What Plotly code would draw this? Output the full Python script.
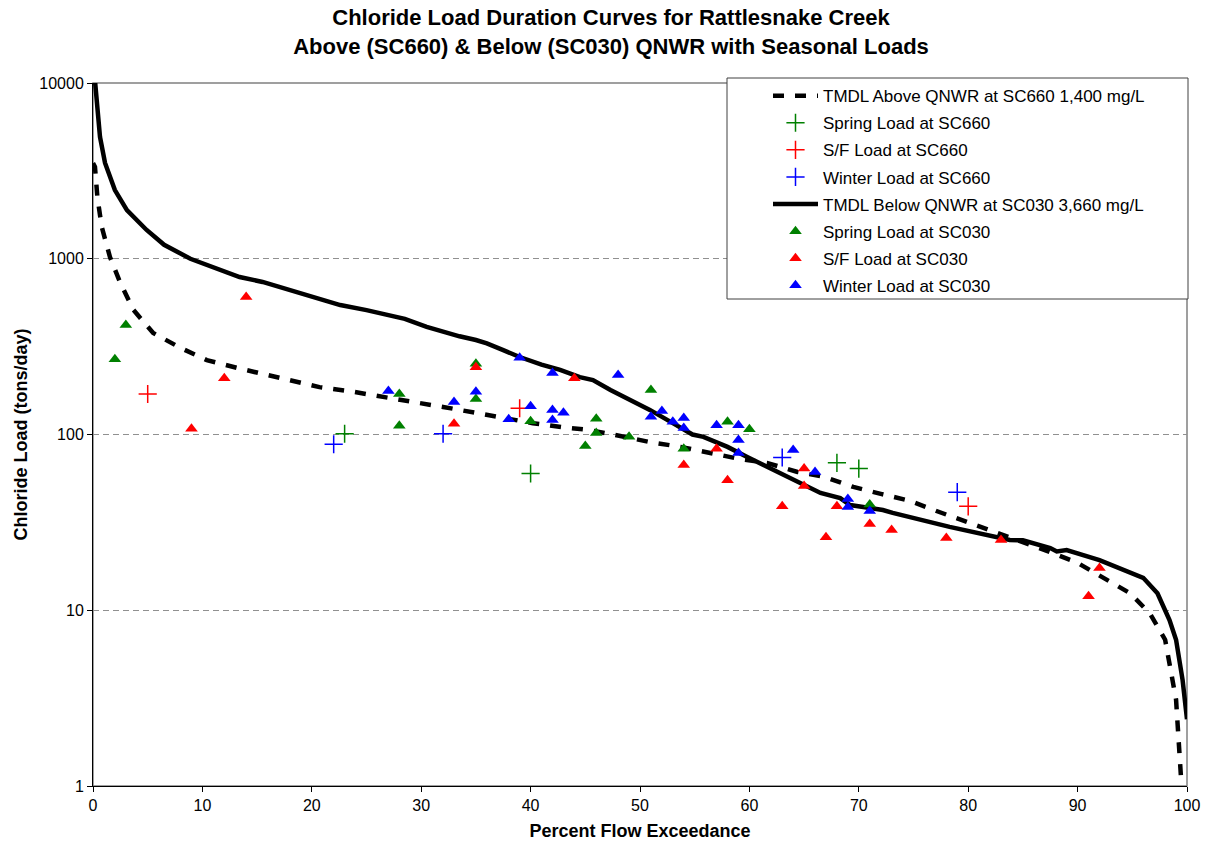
import plotly.graph_objects as go

# ---------------- data ----------------
# TMDL curve below QNWR (SC030, 3,660 mg/L)
tmdl_below_x = [0, 0.2, 0.64, 1.1, 2.0, 3.1, 4.9, 6.5, 8.9, 11, 13.4, 15.5, 18, 20, 22.6,
                25, 27, 28.5, 30.5, 32, 33.5, 35, 36, 37.5, 39, 41, 42.7, 44.5, 45.7,
                47.3, 48.8, 50.9, 53, 54.8, 55.8, 58, 59.8, 62.2, 64.6, 66.5, 68.3,
                69.2, 72.2, 73.1, 78.3, 83.8, 85, 87.5, 88.1, 89, 92, 96, 97.3, 98.4,
                99, 99.6, 100]
tmdl_below_y = [11500, 10000, 4930, 3510, 2460, 1890, 1458, 1200, 1000, 898, 787, 738, 664,
                614, 545, 510, 480, 455, 410, 385, 362, 345, 330, 302, 276, 250, 233,
                212, 204, 179, 161, 138, 116, 100, 97, 85, 74.5, 62.8, 53, 46.5, 43.5,
                39.7, 37.2, 35.8, 29.8, 25.1, 25, 22.6, 21.6, 22, 19.3, 15.3, 12.5, 8.8,
                6.8, 4.0, 2.4]

# TMDL curve above QNWR (SC660, 1,400 mg/L)
tmdl_above_x = [0, 0.18, 0.4, 0.8, 1.55, 2.5, 3.7, 5.5, 8, 10.4, 13.2, 16, 18, 20.7, 23.8,
                26.5, 29.3, 32, 34.7, 37.5, 40.2, 42.9, 45.4, 48.2, 50.9, 53.7, 56.4,
                59.1, 61.6, 64.4, 66.9, 69.5, 72.1, 74.7, 77.1, 79.7, 82.3, 84.7, 87,
                90, 92.3, 94.8, 96.6, 98, 99, 99.6]
tmdl_above_y = [3500, 3330, 2245, 1517, 1023, 728, 511, 378, 311, 265, 239, 218, 205, 186,
                175, 163, 153, 143.5, 134, 126, 116, 110, 106, 98, 90.6, 85, 78.5, 72.6,
                68.9, 61.2, 57.3, 50.3, 45.8, 41.9, 36.7, 32.2, 27.9, 25, 22, 18.6, 15.3,
                12.5, 9.6, 6.8, 3.1, 0.8]

# Seasonal loads at SC660 (crosses)
spring_660_x = [23, 40, 68, 70]
spring_660_y = [101, 60, 69, 64]
sf_660_x = [5, 39, 80]
sf_660_y = [170, 141, 39]
winter_660_x = [22, 32, 63, 79]
winter_660_y = [88, 101, 74, 47]

# Seasonal loads at SC030 (triangles)
spring_030_x = [2, 3, 28, 28, 35, 35, 40, 45, 46, 46, 49, 51, 54, 58, 60, 71]
spring_030_y = [268, 420, 170, 112, 253, 159, 119, 86, 123, 102, 97, 179, 83, 118, 107, 40]
sf_030_x = [9, 12, 14, 33, 35, 44, 54, 57, 58, 63, 65, 65, 67, 68, 71, 73, 78, 83, 91, 92]
sf_030_y = [108, 209, 605, 115, 241, 209, 67, 83, 55, 39, 64, 51, 26, 39, 31, 28.6, 25.8,
            25.1, 12, 17.4]
winter_030_x = [27, 33, 35, 38, 39, 40, 42, 42, 42, 43, 48, 51, 52, 53, 54, 54, 57, 59,
                59, 59, 64, 66, 69, 69, 71]
winter_030_y = [177, 153, 175, 122, 273, 145, 224, 138, 121, 133, 218, 126, 136, 118, 124,
                109, 113, 113, 93, 78.5, 81.6, 61.2, 43, 38.7, 36.7]

y_tick_vals = [1, 10, 100, 1000, 10000]
y_tick_text = ["1", "10", "100", "1000", "10000"]
x_tick_vals = [0, 10, 20, 30, 40, 50, 60, 70, 80, 90, 100]

GREEN = "#008000"
RED = "#FF0000"
BLUE = "#0000FF"
FONT = "Liberation Sans, Arial, sans-serif"

fig = go.Figure()

fig.add_trace(go.Scatter(x=tmdl_above_x, y=tmdl_above_y, mode="lines",
                         name="TMDL Above QNWR at SC660 1,400 mg/L", legendgroup="g1",
                         line=dict(color="black", width=4.5, dash="11px,11px")))


def cross(x, y, color, name, g):
    fig.add_trace(go.Scatter(x=x, y=y, mode="markers", name=name, legendgroup=g,
                             marker=dict(symbol="cross-thin", size=13, color=color,
                                         line=dict(color=color, width=1.5))))


def tri(x, y, color, name, g):
    fig.add_trace(go.Scatter(x=x, y=y, mode="markers", name=name, legendgroup=g,
                             marker=dict(symbol="triangle-up", size=11, color=color,
                                         line=dict(width=0))))


cross(spring_660_x, spring_660_y, GREEN, "Spring Load at SC660", "g2")
cross(sf_660_x, sf_660_y, RED, "S/F Load at SC660", "g3")
cross(winter_660_x, winter_660_y, BLUE, "Winter Load at SC660", "g4")

fig.add_trace(go.Scatter(x=tmdl_below_x, y=tmdl_below_y, mode="lines",
                         name="TMDL Below QNWR at SC030 3,660 mg/L", legendgroup="g5",
                         line=dict(color="black", width=4.5)))

tri(spring_030_x, spring_030_y, GREEN, "Spring Load at SC030", "g6")
tri(sf_030_x, sf_030_y, RED, "S/F Load at SC030", "g7")
tri(winter_030_x, winter_030_y, BLUE, "Winter Load at SC030", "g8")

fig.update_layout(
    width=1209, height=841,
    margin=dict(l=93, r=22, t=83, b=55, autoexpand=False),
    paper_bgcolor="white", plot_bgcolor="white",
    font=dict(family=FONT, size=16, color="black"),
    title=dict(text="<b>Chloride Load Duration Curves for Rattlesnake Creek<br>"
                    "Above (SC660) &amp; Below (SC030) QNWR with Seasonal Loads</b>",
               x=611 / 1209, xanchor="center", xref="container", y=1 - 25 / 841,
               yanchor="middle", yref="container",
               font=dict(family=FONT, size=22, color="black")),
    showlegend=True,
    legend=dict(x=(768 - 93) / 1094, y=1.007, xanchor="left", yanchor="top",
                bgcolor="rgba(0,0,0,0)", borderwidth=0,
                font=dict(family=FONT, size=17, color="black"),
                traceorder="grouped", tracegroupgap=2, itemwidth=45),
    shapes=[
        dict(type="rect", xref="paper", yref="paper", x0=0, x1=1, y0=0, y1=1,
             line=dict(color="#808080", width=1.5), layer="below"),
        dict(type="rect", xref="paper", yref="paper",
             x0=(727 - 93) / 1094, x1=(1188 - 93) / 1094,
             y0=(786 - 299) / 703, y1=(786 - 78) / 703,
             fillcolor="white", line=dict(color="#404040", width=1), layer="above"),
    ],
)

fig.update_xaxes(range=[0, 100], tickvals=x_tick_vals, showgrid=False, zeroline=False,
                 showline=True, linecolor="black", linewidth=1, ticks="outside",
                 ticklen=5, tickcolor="black", tickfont=dict(size=16), automargin=False,
                 title=dict(text="<b>Percent Flow Exceedance</b>", standoff=11,
                            font=dict(size=18)))
fig.update_yaxes(type="log", range=[0, 4], tickvals=y_tick_vals, ticktext=y_tick_text,
                 showgrid=True, gridcolor="#909090", griddash="6px,4px", gridwidth=1,
                 zeroline=False, showline=True, linecolor="black", linewidth=1,
                 ticks="outside", ticklen=5, tickcolor="black", tickfont=dict(size=16),
                 automargin=False,
                 title=dict(text="<b>Chloride Load (tons/day)</b>", standoff=6,
                            font=dict(size=18)))

fig.write_html("out.html")
